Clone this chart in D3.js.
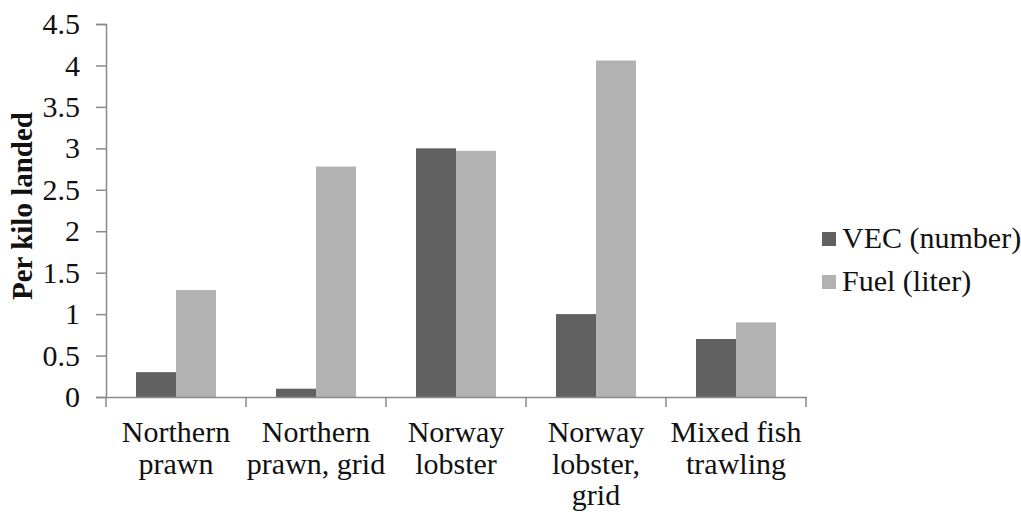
<html>
<head>
<script src="https://d3js.org/d3.v7.min.js"></script>
</head>
<body style="margin:0;background:#fff">
<svg width="1021" height="516" font-family="Liberation Serif"></svg>
<script>
// data
var categories = ["Northern prawn", "Northern prawn, grid", "Norway lobster", "Norway lobster, grid", "Mixed fish trawling"];
var categoryLines = [["Northern", "prawn"], ["Northern", "prawn, grid"], ["Norway", "lobster"], ["Norway", "lobster,", "grid"], ["Mixed fish", "trawling"]];
var seriesNames = ["VEC (number)", "Fuel (liter)"];
var vecValues = [0.3, 0.1, 3.0, 1.0, 0.7];
var fuelValues = [1.29, 2.78, 2.97, 4.06, 0.9];
var yTicks = [0, 0.5, 1, 1.5, 2, 2.5, 3, 3.5, 4, 4.5];
var yTickLabels = ["0", "0.5", "1", "1.5", "2", "2.5", "3", "3.5", "4", "4.5"];
var colors = ["#616161", "#b2b2b2"];

var FONT = "Liberation Serif";
var svg = d3.select("svg");
var axisColor = "#8a8a8a";

var x = d3.scaleBand().domain(categories).range([106, 806]).paddingInner(0).paddingOuter(0);
var xs = d3.scaleBand().domain(seriesNames).range([0, x.bandwidth()]).paddingInner(0).paddingOuter(0.75);
var y = d3.scaleLinear().domain([0, 4.5]).range([397, 24]);

var rows = categories.map(function(c, i) { return { cat: c, vals: [vecValues[i], fuelValues[i]] }; });

// bars
var groups = svg.append("g").selectAll("g").data(rows).enter().append("g")
  .attr("transform", function(d) { return "translate(" + x(d.cat) + ",0)"; });
groups.selectAll("rect").data(function(d) { return d.vals.map(function(v, j) { return { s: seriesNames[j], v: v, j: j }; }); })
  .enter().append("rect")
  .attr("x", function(d) { return xs(d.s); })
  .attr("width", xs.bandwidth())
  .attr("y", function(d) { return y(d.v); })
  .attr("height", function(d) { return y(0) - y(d.v); })
  .attr("fill", function(d) { return colors[d.j]; });

// y axis
var yAxis = svg.append("g")
  .attr("transform", "translate(106,0)")
  .call(d3.axisLeft(y).tickValues(yTicks).tickSize(10).tickPadding(16)
    .tickFormat(function(d, i) { return yTickLabels[i]; }));
yAxis.attr("font-family", FONT);
yAxis.select(".domain").attr("stroke", axisColor).attr("stroke-width", 1.5);
yAxis.selectAll(".tick line").attr("stroke", axisColor).attr("stroke-width", 1.5);
yAxis.selectAll(".tick text")
  .attr("font-size", 30)
  .attr("fill", "#111")
  .attr("font-family", FONT);

// x axis: line plus ticks at band edges
var xAxis = svg.append("g")
  .attr("transform", "translate(0," + y(0) + ")")
  .call(d3.axisBottom(x).tickSize(0).tickFormat(""));
xAxis.select(".domain").attr("stroke", axisColor).attr("stroke-width", 1.5);
var edges = categories.map(function(c) { return x(c); }).concat([x.range()[1]]);
xAxis.selectAll(".edge").data(edges).enter().append("line")
  .attr("x1", function(d) { return d; }).attr("x2", function(d) { return d; })
  .attr("y1", 0).attr("y2", 10)
  .attr("stroke", axisColor).attr("stroke-width", 1.5);

// category labels
var labels = svg.append("g").selectAll("text").data(categories).enter().append("text")
  .attr("transform", function(c) { return "translate(" + (x(c) + x.bandwidth() / 2) + ",442)"; })
  .attr("text-anchor", "middle")
  .attr("font-family", FONT)
  .attr("fill", "#111")
  .attr("font-size", 30);
labels.selectAll("tspan").data(function(c, i) { return categoryLines[i]; }).enter().append("tspan")
  .attr("x", 0)
  .attr("y", function(d, k) { return k * 31.5; })
  .text(function(d) { return d; });

// y title
svg.append("text")
  .attr("transform", "translate(32,206) rotate(-90)")
  .attr("text-anchor", "middle")
  .attr("font-family", FONT)
  .attr("fill", "#111")
  .attr("font-size", 29)
  .attr("font-weight", "bold")
  .text("Per kilo landed");

// legend
var legend = svg.append("g").selectAll("g").data(seriesNames).enter().append("g")
  .attr("transform", function(d, i) { return "translate(822," + (248 + i * 43) + ")"; });
legend.append("rect")
  .attr("x", 0).attr("y", -16).attr("width", 14).attr("height", 14)
  .attr("fill", function(d, i) { return colors[i]; });
legend.append("text")
  .attr("x", 20)
  .attr("font-family", FONT)
  .attr("fill", "#111")
  .attr("font-size", 30)
  .text(function(d) { return d; });
</script>
</body>
</html>
